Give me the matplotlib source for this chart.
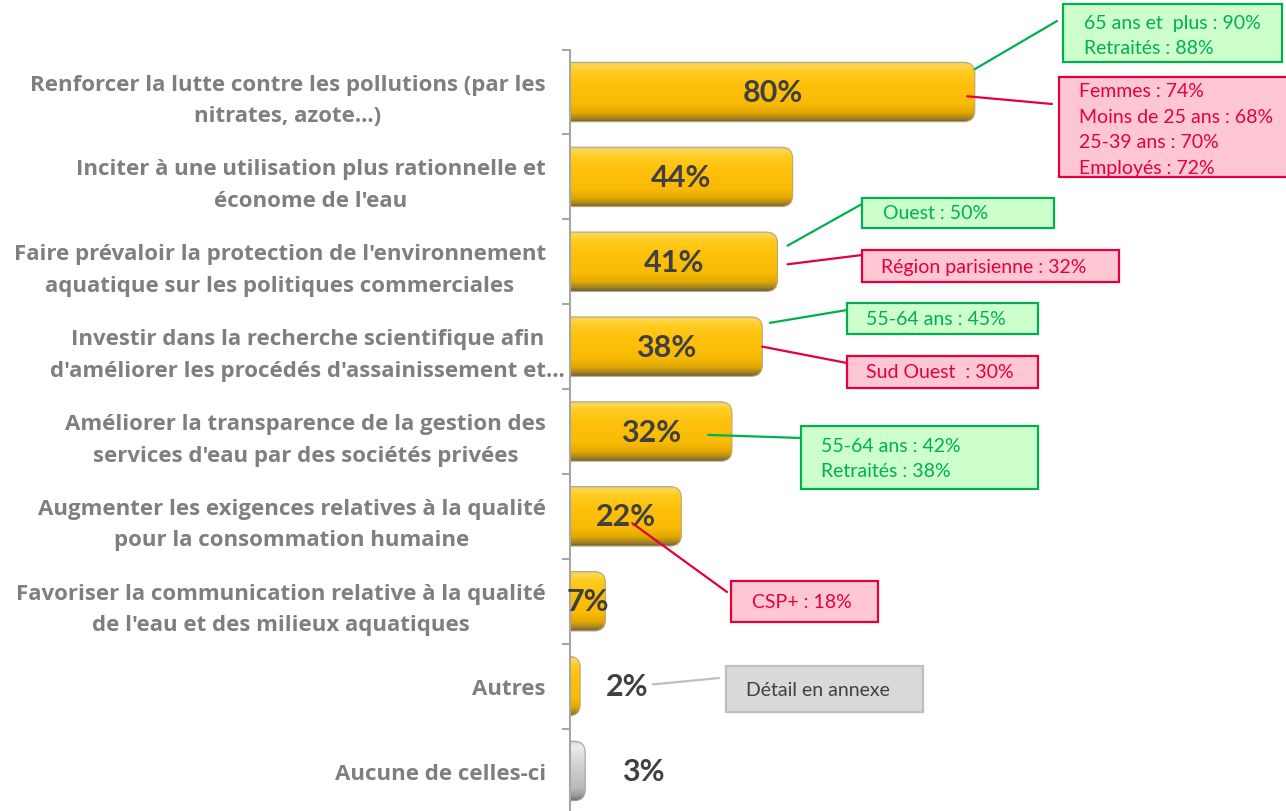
import numpy as np
import matplotlib
matplotlib.use('Agg')
import matplotlib.pyplot as plt
import matplotlib.transforms as mtransforms
from matplotlib.patches import FancyBboxPatch, Rectangle
from matplotlib.colors import LinearSegmentedColormap

plt.rcParams['font.family'] = ['Lato', 'DejaVu Sans']

# ---- data ----
categories = [
    "Renforcer la lutte contre les pollutions (par les\nnitrates, azote…)",
    "Inciter à une utilisation plus rationnelle et\néconome de l'eau",
    "Faire prévaloir la protection de l'environnement\naquatique sur les politiques commerciales",
    "Investir dans la recherche scientifique afin\nd'améliorer les procédés d'assainissement et…",
    "Améliorer la transparence de la gestion des\nservices d'eau par des sociétés privées",
    "Augmenter les exigences relatives à la qualité\npour la consommation humaine",
    "Favoriser la communication relative à la qualité\nde l'eau et des milieux aquatiques",
    "Autres",
    "Aucune de celles-ci",
]
values = [80, 44, 41, 38, 32, 22, 7, 2, 3]
is_none = [False] * 8 + [True]

callout_texts = [
    "65 ans et  plus : 90%\nRetraités : 88%",
    "Femmes : 74%\nMoins de 25 ans : 68%\n25-39 ans : 70%\nEmployés : 72%",
    "Ouest : 50%",
    "Région parisienne : 32%",
    "55-64 ans : 45%",
    "Sud Ouest  : 30%",
    "55-64 ans : 42%\nRetraités : 38%",
    "CSP+ : 18%",
    "Détail en annexe",
]
callout_bar = [0, 0, 2, 2, 3, 3, 4, 5, 7]
callout_kind = ['g', 'r', 'g', 'r', 'g', 'r', 'g', 'r', 'n']

# ---- layout (pixels, top-left origin) ----
# box: left, top, right, bottom ; text x, text y ; line start x, y
callout_box = [(1063, 5, 1282, 63), (1059, 78, 1290, 178), (862, 199, 1054, 229),
               (862, 251, 1119, 283), (847, 304, 1038, 335), (847, 357, 1038, 389),
               (801, 427, 1038, 490), (731, 582, 878, 623), (726, 667, 923, 713)]
callout_txt = [(1084, 36), (1079, 130), (883, 214), (881, 268), (866, 320), (866, 373),
               (821, 459), (752, 603), (746, 691)]
callout_line = [(1057, 22), (1052, 105), (862, 205), (862, 256), (847, 311), (847, 364),
                (801, 439), (727, 593), (719, 679)]
# anchor offsets on bar (x in %, y in category units)
callout_anchor = [(0, -0.27), (-1.5, 0.05), (2, -0.19), (2, 0.03), (1.5, -0.28),
                  (0, 0.0), (-4.7, 0.04), (-9.7, 0.08), (14.4, -0.02)]
# gap between bar end and value label for the small bars drawn outside
outside_gap = {2: 5.1, 3: 7.3}

styles = {
    'g': dict(edge='#00B050', face='#CCFFCC', text='#00B050'),
    'r': dict(edge='#E4003A', face='#FFC7D4', text='#E4003A'),
    'n': dict(edge='#BFBFBF', face='#D9D9D9', text='#404040'),
}

W, H = 1286, 812
fig = plt.figure(figsize=(W / 100, H / 100), dpi=100)
ax = fig.add_axes([570 / W, -2.4 / H, 1 - 570 / W, 763.8 / H])
px_per_unit = 5.06
n = len(values)
y = np.arange(n)

bars = ax.barh(y, values, height=0.7, color='none', edgecolor='none')

gold = LinearSegmentedColormap.from_list('gold', [
    (0, '#DCC88C'), (0.06, '#FFD84A'), (0.15, '#FFCC22'), (0.35, '#FFC10C'),
    (0.7, '#F9BA05'), (0.85, '#E0A800'), (0.94, '#A88420'), (1, '#6E6040')])
grey = LinearSegmentedColormap.from_list('grey', [
    (0, '#D0D0D0'), (0.08, '#EDEDED'), (0.4, '#D2D2D2'), (0.8, '#B8B8B8'),
    (0.92, '#959595'), (1, '#6A6A6A')])
grad = np.linspace(0, 1, 200).reshape(-1, 1)
asp = px_per_unit / (763.8 / n)

for bar, none in zip(bars, is_none):
    x0 = -2.5
    w = bar.get_width() - x0
    y0, h = bar.get_y(), bar.get_height()
    r = min(2.2, w / 2)
    patch = FancyBboxPatch((x0, y0), w, h, boxstyle=f"round,pad=0,rounding_size={r}",
                           mutation_aspect=asp, facecolor='none',
                           edgecolor='#B8A878' if not none else '#A0A0A0', lw=0.8, zorder=3)
    ax.add_patch(patch)
    im = ax.imshow(grad, cmap=grey if none else gold, aspect='auto', origin='upper',
                   extent=(x0, bar.get_width(), y0 + h, y0), zorder=2, interpolation='bilinear')
    im.set_clip_path(patch)

for i, v in enumerate(values):
    if v >= 5:
        ax.text(v / 2, i, f"{v}%", ha='center', va='center', fontsize=22,
                fontweight='bold', color='#404040', zorder=4)
    else:
        ax.text(v + outside_gap[v], i, f"{v}%", ha='left', va='center', fontsize=22,
                fontweight='bold', color='#404040', zorder=4)

ax.set_xlim(0, (W - 570) / px_per_unit)
ax.set_ylim(n - 0.5, -0.5)

ax.set_yticks(y, categories)
ax.set_yticks(np.arange(-0.5, n), minor=True)
ax.tick_params(axis='y', which='major', length=0, pad=17.5, labelsize=16,
               labelcolor='#7F7F7F')
ax.tick_params(axis='y', which='minor', length=6, width=1.5, color='#A6A6A6', direction='out')
for i, lab in enumerate(ax.get_yticklabels()):
    lab.set_multialignment('center')
    lab.set_fontweight('bold')
    lab.set_family(['Open Sans', 'DejaVu Sans'])
    lab.set_linespacing(1.66)
    if i == 3:
        lab.set_transform(lab.get_transform() +
                          mtransforms.ScaledTranslation(0.19, 0, fig.dpi_scale_trans))
ax.set_xticks([])
for s in ['top', 'right', 'bottom']:
    ax.spines[s].set_visible(False)
ax.spines['left'].set_color('#A6A6A6')
ax.spines['left'].set_linewidth(1.5)

# ---- callouts ----
flip = mtransforms.Affine2D().scale(1, -1).translate(0, H)
for k in range(len(callout_texts)):
    st = styles[callout_kind[k]]
    l, t, rr, b = callout_box[k]
    fig.add_artist(Rectangle((l, t), rr - l, b - t, transform=flip, facecolor=st['face'],
                             edgecolor=st['edge'], lw=1.6, zorder=5))
    tx, ty = callout_txt[k]
    fig.text(tx, ty, callout_texts[k], transform=flip, ha='left', va='center',
             fontsize=14, color=st['text'], linespacing=1.63, zorder=6)
    bi = callout_bar[k]
    dx, dy = callout_anchor[k]
    ax.annotate('', xy=(values[bi] + dx, bi + dy), xycoords='data',
                xytext=callout_line[k], textcoords=flip,
                arrowprops=dict(arrowstyle='-', color=st['edge'] if callout_kind[k] != 'n' else '#BFBFBF',
                                lw=1.6, shrinkA=0, shrinkB=0), zorder=5)

fig.savefig('out.png', dpi=100)
